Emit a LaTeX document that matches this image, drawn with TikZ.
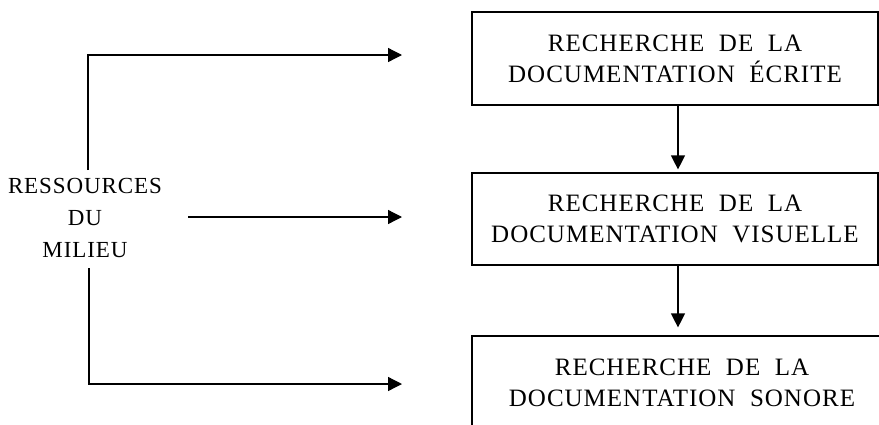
\documentclass[tikz,border=0pt]{standalone}
\usepackage{fontspec}
\setmainfont{Liberation Serif}[LetterSpace=4,WordSpace=2]
\usetikzlibrary{arrows.meta}
\begin{document}
\begin{tikzpicture}[x=1pt,y=-1pt,
  line width=1.3pt,
  box/.style={draw,line width=1.2pt,inner sep=0pt,align=center,
    font=\fontsize{25}{31}\selectfont},
  lbl/.style={inner sep=0pt,align=center,font=\fontsize{23}{32}\selectfont},
  arr/.style={-{Triangle[length=14pt,width=14pt]}}]
\useasboundingbox[fill=white] (0,0) rectangle (879,424);
\node[box,minimum width=406pt,minimum height=93pt] (b1) at (675,58.5)
  {RECHERCHE DE LA\\DOCUMENTATION ÉCRITE};
\node[box,minimum width=406pt,minimum height=92pt] (b2) at (675,219)
  {RECHERCHE DE LA\\DOCUMENTATION VISUELLE};
\node[box,minimum width=420pt,minimum height=93pt] (b3) at (682,382.5)
  {RECHERCHE DE LA\\DOCUMENTATION SONORE};
\node[lbl] (res) at (85,217.5) {RESSOURCES\\DU\\MILIEU};
\coordinate (u0) at (88,170);
\coordinate (t1) at (402,55);
\coordinate (m0) at (188,217);
\coordinate (t2) at (402,217);
\coordinate (d0) at (89,268);
\coordinate (t3) at (402,384);
\draw[arr] (u0) |- (t1);
\draw[arr] (m0) -- (t2);
\draw[arr] (d0) |- (t3);
\draw[arr,shorten >=3pt] ([xshift=3pt]b1.south) -- ([xshift=3pt]b1.south |- b2.north);
\draw[arr,shorten >=8pt] ([xshift=3pt]b2.south) -- ([xshift=3pt]b2.south |- b3.north);
\end{tikzpicture}
\end{document}
